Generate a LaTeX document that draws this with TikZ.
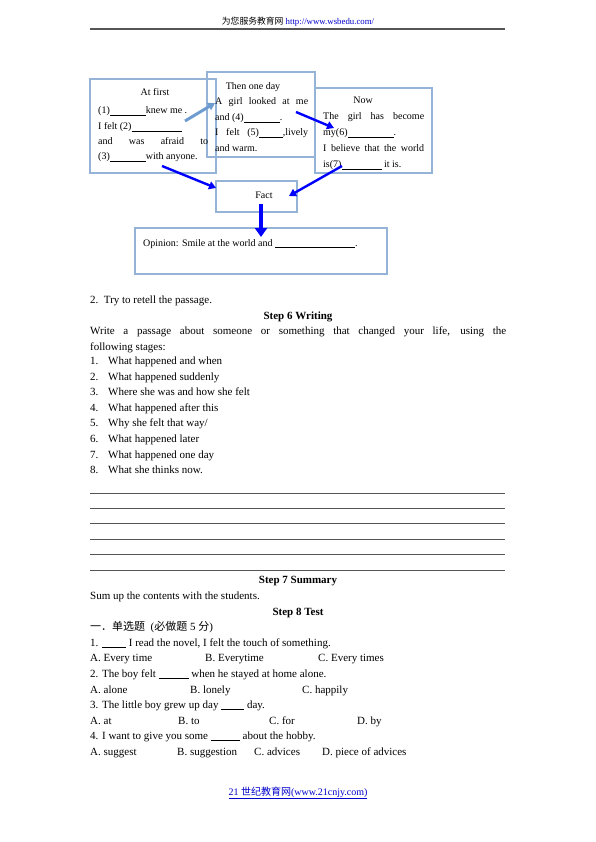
\documentclass[tikz,border=0pt]{standalone}
\usepackage{fontspec}
\setmainfont{Liberation Serif}
\newfontfamily\cjk{Noto Sans CJK SC}
\usetikzlibrary{arrows.meta,positioning,calc}
\definecolor{boxblue}{HTML}{95B3D7}
\definecolor{arrowblue}{HTML}{0000FF}
\definecolor{paleblue}{HTML}{6E9BD0}
\definecolor{rulegray}{HTML}{555555}
\definecolor{linkblue}{HTML}{0000CC}
\newcommand{\blank}[1]{\rule[-1.3pt]{#1pt}{0.5pt}}
\tikzset{
  panel/.style={draw=boxblue, line width=1.4pt, rectangle, inner sep=0pt},
  boxtext/.style={inner sep=0pt, anchor=base west, font=\fontsize{10}{12}\selectfont},
  boxtitle/.style={boxtext, anchor=base},
  bodytext/.style={inner sep=0pt, anchor=base west, font=\fontsize{11}{13}\selectfont},
  heading/.style={inner sep=0pt, anchor=base, font=\fontsize{11}{13}\selectfont\bfseries},
  flow/.style={draw=arrowblue, line width=2.4pt, -{Triangle[length=7pt,width=8pt]}},
}

\begin{document}
\begin{tikzpicture}[x=1pt,y=-1pt]
    \useasboundingbox (0,0) rectangle (595,842);
    \fill[white] (0,0) rectangle (595,842);

    % Page header
    \node[inner sep=0pt, anchor=base, font=\fontsize{8.8}{10}\selectfont] (header) at (298,25)
        {{\cjk 为您服务教育网}~\textcolor{linkblue}{\underline{http://www.wsbedu.com/}}};
    \draw[rulegray, line width=1.5pt] (90,29) -- (505,29);

    % Story boxes
    \node[panel, minimum width=126, minimum height=94] (first) at (153,126) {};
    \node[panel, minimum width=108, minimum height=85] (oneday) at (261,114.5) {};
    \node[panel, minimum width=117, minimum height=85] (now) at (373.5,130.5) {};
    \node[panel, minimum width=81, minimum height=31] (fact) at (256.5,196.5) {};
    \node[panel, minimum width=252, minimum height=46] (opinion) at (261,251) {};

    \node[boxtitle] (firstT) at (155,96) {At first};
    \node[boxtext] (first1) at (98,114) {(1)\blank{36}knew me .};
    \node[boxtext] (first2) at (98,130) {I felt (2)\blank{50}};
    \node[boxtext] (first3) at (98,145) {\makebox[110pt][s]{and was afraid to}};
    \node[boxtext] (first4) at (98,160) {(3)\blank{36}with anyone.};

    \node[boxtitle] (onedayT) at (253,90) {Then one day};
    \node[boxtext] (oneday1) at (215,105) {\makebox[93pt][s]{A girl looked at me}};
    \node[boxtext] (oneday2) at (215,121) {and (4)\blank{36}.};
    \node[boxtext] (oneday3) at (215,136) {\makebox[93pt][s]{I felt (5)\blank{24},lively}};
    \node[boxtext] (oneday4) at (215,152) {and warm.};

    \node[boxtitle] (nowT) at (363,104) {Now};
    \node[boxtext] (now1) at (323,120) {\makebox[101pt][s]{The girl has become}};
    \node[boxtext] (now2) at (323,136) {my(6)\blank{46}.};
    \node[boxtext] (now3) at (323,152) {\makebox[101pt][s]{I believe that the world}};
    \node[boxtext] (now4) at (323,168) {is(7)\blank{40} it is.};

    \node[boxtitle] (factT) at (264,199) {Fact};
    \node[boxtext] (opinionT) at (143,246) {Opinion: Smile at the world and \blank{80}.};

    % Arrows between the stages
    \coordinate (p1) at (185,121);
    \coordinate (q1) at (215,103);
    \coordinate (p2) at (296,112);
    \coordinate (q2) at (334,128);
    \coordinate (p3) at (162,166);
    \coordinate (q3) at (216,188);
    \coordinate (p4) at (342,166);
    \coordinate (q4) at (289,196);
    \coordinate (p5) at (261,204);
    \coordinate (q5) at (261,237);
    \draw[flow, draw=paleblue, line width=3pt] (p1) -- (q1);
    \draw[flow] (p2) -- (q2);
    \draw[flow] (p3) -- (q3);
    \draw[flow] (p4) -- (q4);
    \draw[flow, line width=3.6pt, -{Triangle[length=9pt,width=12pt]}] (p5) -- (q5);

    % Step 6
    \node[bodytext] (retell) at (90,303.5) {2.\ \ Try to retell the passage.};
    \node[heading] (step6) at (298,319) {Step 6 Writing};
    \node[bodytext] (task1) at (90,334.5) {\makebox[416pt][s]{Write a passage about someone or something that changed your life, using the}};
    \node[bodytext] (task2) at (90,350) {following stages:};
    \foreach \t [count=\k] in {What happened and when, What happened suddenly,
        Where she was and how she felt, What happened after this, Why she felt that way/,
        What happened later, What happened one day, What she thinks now.}{
        \node[bodytext] (num\k) at (90,{364.5+15.6*(\k-1)}) {\k.};
        \node[bodytext] (stage\k) at (108,{364.5+15.6*(\k-1)}) {\t};
    }
    \foreach \y in {493,508,523,539,554,570}
        \draw[rulegray, line width=0.8pt] (90,\y) -- (505,\y);

    % Step 7 and Step 8
    \node[heading] (step7) at (298,583.5) {Step 7 Summary};
    \node[bodytext] (sumup) at (90,599.5) {Sum up the contents with the students.};
    \node[heading] (step8) at (298,615.5) {Step 8 Test};
    \node[bodytext] (part1) at (90,630.5) {{\cjk 一．单选题}\ \ ({\cjk 必做题}~5~{\cjk 分})};

    \node[bodytext] (q1t) at (90,646.5) {1. \blank{24} I read the novel, I felt the touch of something.};
    \node[bodytext] (q1a) at (90,661.5) {A. Every time};
    \node[bodytext] (q1b) at (205,661.5) {B. Everytime};
    \node[bodytext] (q1c) at (318,661.5) {C. Every times};
    \node[bodytext] (q2t) at (90,677.5) {2. The boy felt \blank{30} when he stayed at home alone.};
    \node[bodytext] (q2a) at (90,693.5) {A. alone};
    \node[bodytext] (q2b) at (190,693.5) {B. lonely};
    \node[bodytext] (q2c) at (302,693.5) {C. happily};
    \node[bodytext] (q3t) at (90,708.5) {3. The little boy grew up day \blank{23} day.};
    \node[bodytext] (q3a) at (90,724.5) {A. at};
    \node[bodytext] (q3b) at (178,724.5) {B. to};
    \node[bodytext] (q3c) at (269,724.5) {C. for};
    \node[bodytext] (q3d) at (357,724.5) {D. by};
    \node[bodytext] (q4t) at (90,739.5) {4. I want to give you some \blank{29} about the hobby.};
    \node[bodytext] (q4a) at (90,755.5) {A. suggest};
    \node[bodytext] (q4b) at (177,755.5) {B. suggestion};
    \node[bodytext] (q4c) at (254,755.5) {C. advices};
    \node[bodytext] (q4d) at (322,755.5) {D. piece of advices};

    % Page footer
    \node[inner sep=0pt, anchor=base, font=\fontsize{10}{11}\selectfont] (footer) at (298,795)
        {\textcolor{linkblue}{\underline{21 {\cjk 世纪教育网}(www.21cnjy.com)}}};
\end{tikzpicture}
\end{document}
